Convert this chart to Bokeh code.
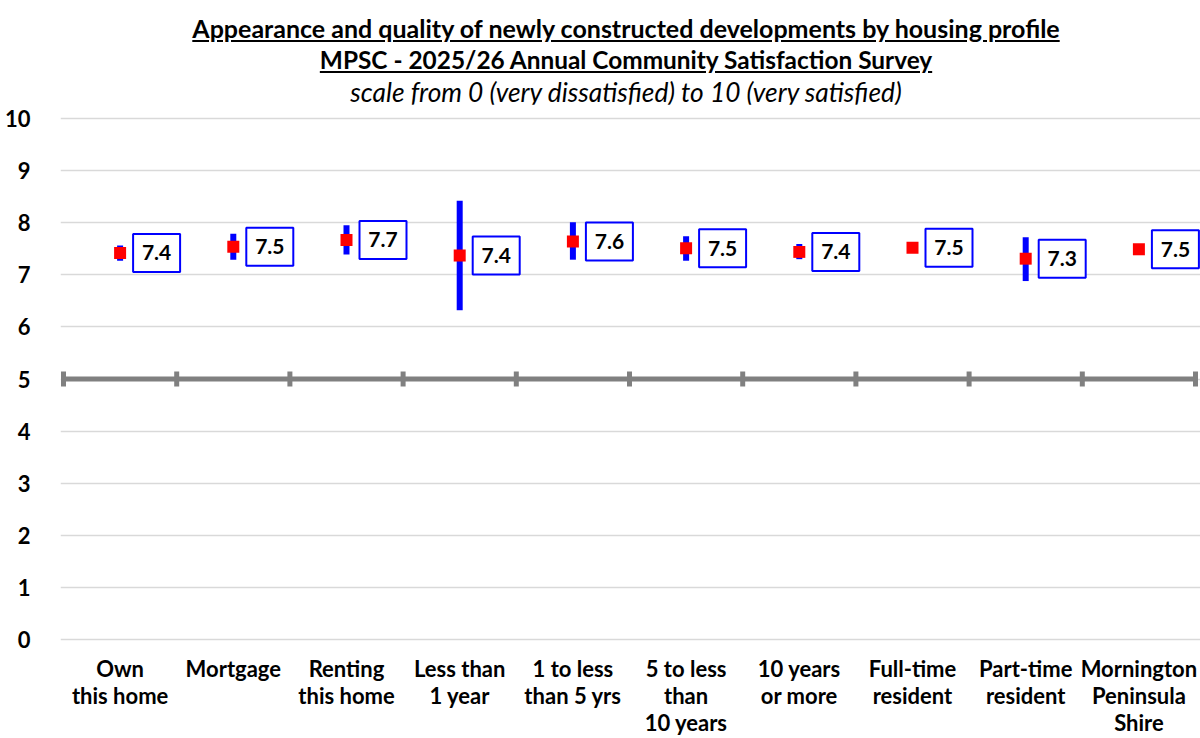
from bokeh.plotting import figure
from bokeh.models import Div, ColumnDataSource, FixedTicker, Range1d
from bokeh.layouts import column
from bokeh.embed import file_html
from bokeh.resources import INLINE
from bokeh.core.properties import value
import math

# ---- data ----
categories = ["Own this home", "Mortgage", "Renting this home", "Less than 1 year",
              "1 to less than 5 yrs", "5 to less than 10 years", "10 years or more",
              "Full-time resident", "Part-time resident", "Mornington Peninsula Shire"]
label_lines = [["Own", "this home"], ["Mortgage"], ["Renting", "this home"],
               ["Less than", "1 year"], ["1 to less", "than 5 yrs"],
               ["5 to less", "than", "10 years"], ["10 years", "or more"],
               ["Full-time", "resident"], ["Part-time", "resident"],
               ["Mornington", "Peninsula", "Shire"]]
means = [7.42, 7.54, 7.67, 7.37, 7.64, 7.51, 7.44, 7.52, 7.31, 7.49]
ci_low = [7.27, 7.29, 7.39, 6.32, 7.29, 7.27, 7.30, 7.46, 6.88, 7.45]
ci_high = [7.56, 7.79, 7.95, 8.42, 8.01, 7.74, 7.59, 7.58, 7.72, 7.53]
value_labels = ["7.4", "7.5", "7.7", "7.4", "7.6", "7.5", "7.4", "7.5", "7.3", "7.5"]
y_ticks = [0, 1, 2, 3, 4, 5, 6, 7, 8, 9, 10]
reference_level = 5

title1 = "Appearance and quality of newly constructed developments by housing profile"
title2 = "MPSC - 2025/26 Annual Community Satisfaction Survey"
title3 = "scale from 0 (very dissatisfied) to 10 (very satisfied)"

FONT = "Lato"

# ---- layout geometry (pixels) ----
W = 1200
DIV_H = 104
H = 738 - DIV_H
LEFT, RIGHT, TOP, BOTTOM = 60, 0, 12, 0
n = len(categories)
px_x = 113.2          # pixels per category
px_y = 52.1           # pixels per scale point
x_pad_l, x_pad_r = 3, 5
y_pad_top, y_pad_bottom = 2, 99

xc = [i + 0.5 for i in range(n)]
box_w, box_h, box_gap = 47, 38, 13
xbox = [x + (box_gap + box_w / 2) / px_x for x in xc]

p = figure(width=W, height=H, output_backend="svg", toolbar_location=None,
           x_range=Range1d(-x_pad_l / px_x, n + x_pad_r / px_x),
           y_range=Range1d(-y_pad_bottom / px_y, 10 + y_pad_top / px_y),
           min_border_left=LEFT, min_border_right=RIGHT,
           min_border_top=TOP, min_border_bottom=BOTTOM)
p.outline_line_color = None
p.background_fill_color = "white"
p.border_fill_color = "white"

p.xaxis.visible = False
p.xgrid.visible = False
p.yaxis.ticker = FixedTicker(ticks=y_ticks)
p.ygrid.ticker = FixedTicker(ticks=y_ticks)
p.ygrid.grid_line_color = "#d9d9d9"
p.ygrid.grid_line_width = 1.5
p.yaxis.axis_line_color = None
p.yaxis.major_tick_line_color = None
p.yaxis.minor_tick_line_color = None
p.yaxis.major_label_standoff = 24
p.yaxis.major_label_text_font = FONT
p.yaxis.major_label_text_font_style = "bold"
p.yaxis.major_label_text_font_size = "22px"
p.yaxis.major_label_text_color = "black"

# horizontal axis line crossing at 5, with category boundary ticks
p.segment(x0=[0], y0=[reference_level], x1=[n], y1=[reference_level],
          line_color="#808080", line_width=5)
p.scatter(x=list(range(n + 1)), y=[reference_level] * (n + 1), marker="dash",
          angle=math.pi / 2, size=15, line_color="#808080", line_width=5)

src = ColumnDataSource(dict(x=xc, xb=xbox, m=means, lo=ci_low, hi=ci_high, lab=value_labels))
p.segment(x0="x", y0="lo", x1="x", y1="hi", source=src, line_color="#0000ff", line_width=6)
p.scatter(x="x", y="m", source=src, marker="square", size=12,
          fill_color="#ff0000", line_color=None)
p.rect(x="xb", y="m", width=box_w, height=box_h, width_units="screen",
       height_units="screen", source=src, fill_color="white",
       line_color="#0000ff", line_width=2)
p.text(x="xb", y="m", text="lab", source=src, text_font=value(FONT),
       text_font_style="bold", text_font_size="21px", text_align="center",
       text_baseline="middle", text_color="black")

# category labels (multi-line), below the 0 line
lx, ly, lt = [], [], []
for i, lines in enumerate(label_lines):
    for j, t in enumerate(lines):
        lx.append(xc[i]); ly.append(-(29 + 27 * j) / px_y); lt.append(t)
lab_src = ColumnDataSource(dict(x=lx, y=ly, t=lt))
p.text(x="x", y="y", text="t", source=lab_src, text_font=value(FONT),
       text_font_style="bold", text_font_size="22px", text_align="center",
       text_baseline="middle", text_color="black")

html_title = (
    f'<div style="font-family:{FONT};color:#000;text-align:center;'
    f'width:{int(n * px_x)}px;margin-left:{LEFT}px;padding-top:12px;line-height:32px">'
    f'<div style="font-size:25px;font-weight:bold;text-decoration:underline">{title1}</div>'
    f'<div style="font-size:24.4px;font-weight:bold;text-decoration:underline">{title2}</div>'
    f'<div style="font-size:26.3px;font-style:italic;line-height:24px;margin-top:4px">{title3}</div></div>'
)
div = Div(text=html_title, width=W, height=DIV_H, margin=0)

layout = column(div, p, spacing=0)
open("out.html", "w").write(file_html(layout, INLINE))
